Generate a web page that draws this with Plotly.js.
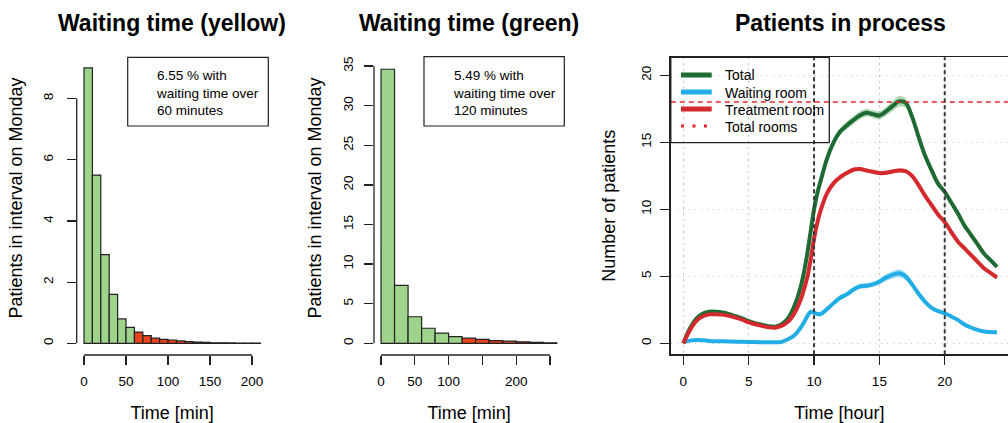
<!DOCTYPE html>
<html>
<head>
<meta charset="utf-8">
<script src="https://cdn.plot.ly/plotly-3.0.1.min.js"></script>
<style>
  html, body { margin: 0; padding: 0; background: #ffffff; }
  #chart { width: 1008px; height: 423px; }
</style>
</head>
<body>
<div id="chart"></div>
<script>
// ---- Waiting time histograms (lower bin edge in minutes, patients per bin) ----
const yellowBins = [0, 10, 20, 30, 40, 50, 60, 70, 80, 90, 100, 110, 120, 130, 140, 150, 160, 170, 180, 190, 200];
const yellowCounts = [9.0, 5.5, 2.9, 1.6, 0.8, 0.52, 0.37, 0.25, 0.17, 0.13, 0.11, 0.08, 0.06, 0.04, 0.03, 0.02, 0.02, 0.015, 0.01, 0.01, 0.005];
const yellowLimit = 60;
const yellowNote = ['6.55 % with', 'waiting time over', '60 minutes'];
const yellowXTicks = [0, 50, 100, 150, 200];
const yellowXText = ['0', '50', '100', '150', '200'];
const yellowYTicks = [0, 2, 4, 6, 8];

const greenBins = [0, 20, 40, 60, 80, 100, 120, 140, 160, 180, 200, 220, 240];
const greenCounts = [34.6, 7.3, 3.35, 1.9, 1.28, 0.85, 0.65, 0.5, 0.33, 0.26, 0.18, 0.12, 0.06];
const greenLimit = 120;
const greenNote = ['5.49 % with', 'waiting time over', '120 minutes'];
const greenXTicks = [0, 50, 100, 150, 200, 250];
const greenXText = ['0', '50', '100', '', '200', ''];
const greenYTicks = [0, 5, 10, 15, 20, 25, 30, 35];

// ---- Patients in process over the day ----
const hours = [0, 0.5, 1, 1.5, 2, 2.5, 3, 3.5, 4, 4.5, 5, 5.5, 6, 6.5, 7, 7.5, 8, 8.5,
  9, 9.25, 9.5, 9.75, 10, 10.25, 10.5,
  11, 11.5, 12, 12.5, 13, 13.5, 14, 14.5, 15, 15.5, 16, 16.5, 17, 17.5, 18, 18.5, 19, 19.5,
  20, 20.5, 21, 21.5, 22, 22.5, 23, 23.5, 24];
const totalPatients = [0, 1.1, 1.85, 2.22, 2.36, 2.35, 2.3, 2.18, 2.02, 1.86, 1.65, 1.5, 1.38, 1.28, 1.24, 1.4, 1.85, 2.8,
  4.3, 5.4, 6.8, 8.4, 10.0, 11.2, 12.1,
  13.8, 15.0, 15.8, 16.25, 16.65, 17.0, 17.2, 17.1, 17.0, 17.3, 17.7, 18.05, 17.95, 16.9, 15.4, 14.0, 12.9, 11.9,
  11.3, 10.5, 9.7, 8.8, 8.1, 7.4, 6.7, 6.2, 5.7];
const waitingRoom = [0.07, 0.2, 0.25, 0.22, 0.18, 0.16, 0.15, 0.14, 0.12, 0.11, 0.1, 0.09, 0.08, 0.07, 0.08, 0.1, 0.3, 0.6,
  1.2, 1.6, 2.05, 2.36, 2.28, 2.2, 2.18,
  2.55, 3.0, 3.4, 3.65, 4.0, 4.25, 4.3, 4.4, 4.6, 4.9, 5.1, 5.22, 5.0, 4.4, 3.7, 3.1, 2.65, 2.4,
  2.24, 2.0, 1.75, 1.41, 1.18, 1.0, 0.88, 0.84, 0.82];
const treatmentRoom = [0, 0.98, 1.68, 2.02, 2.16, 2.17, 2.14, 2.05, 1.92, 1.76, 1.56, 1.42, 1.3, 1.2, 1.16, 1.3, 1.6, 2.25,
  3.3, 4.1, 5.0, 6.3, 7.8, 9.0, 9.9,
  11.2, 11.95, 12.4, 12.7, 12.95, 13.0, 12.9, 12.8, 12.7, 12.72, 12.82, 12.9, 12.85, 12.5, 11.8, 11.0, 10.3, 9.6,
  9.05, 8.3, 7.6, 7.1, 6.6, 6.1, 5.6, 5.25, 4.9];
// half-width of the shaded uncertainty band around each curve
const totalBand = [0.06, 0.06, 0.06, 0.06, 0.06, 0.06, 0.06, 0.06, 0.06, 0.06, 0.06, 0.06, 0.06, 0.06, 0.06, 0.06, 0.06, 0.06,
  0.1, 0.1, 0.1, 0.1, 0.1, 0.1, 0.1,
  0.15, 0.2, 0.25, 0.28, 0.3, 0.3, 0.28, 0.28, 0.3, 0.32, 0.36, 0.4, 0.36, 0.3, 0.22, 0.18, 0.15, 0.12,
  0.1, 0.08, 0.08, 0.08, 0.08, 0.08, 0.08, 0.08, 0.08];
const waitingBand = [0.05, 0.05, 0.05, 0.05, 0.05, 0.05, 0.05, 0.05, 0.05, 0.05, 0.05, 0.05, 0.05, 0.05, 0.05, 0.05, 0.05, 0.05,
  0.1, 0.1, 0.1, 0.1, 0.1, 0.1, 0.1,
  0.12, 0.15, 0.18, 0.18, 0.2, 0.2, 0.2, 0.2, 0.22, 0.25, 0.28, 0.3, 0.28, 0.25, 0.2, 0.15, 0.12, 0.1,
  0.08, 0.06, 0.06, 0.06, 0.06, 0.06, 0.06, 0.06, 0.06];
const treatmentBand = [0.06, 0.06, 0.06, 0.06, 0.06, 0.06, 0.06, 0.06, 0.06, 0.06, 0.06, 0.06, 0.06, 0.06, 0.06, 0.06, 0.06, 0.06,
  0.1, 0.1, 0.1, 0.1, 0.1, 0.1, 0.1,
  0.15, 0.15, 0.15, 0.15, 0.15, 0.15, 0.15, 0.15, 0.15, 0.15, 0.15, 0.15, 0.15, 0.15,
  0.08, 0.08, 0.08, 0.08, 0.08, 0.08, 0.08, 0.08, 0.08, 0.08, 0.08, 0.08, 0.08];
const totalRooms = 18;
const shiftHours = [10, 20];
const hourTicks = [0, 5, 10, 15, 20];
const patientTicks = [0, 5, 10, 15, 20];
const legendNames = ['Total', 'Waiting room', 'Treatment room', 'Total rooms'];

// ---- styling helpers ----
const FONT = 'Liberation Sans, Arial, Helvetica, sans-serif';
const W = 1008, H = 423;
const px = v => v / W;          // pixel column -> paper x
const py = v => 1 - v / H;      // pixel row -> paper y
const INK = '#222222';
const GREEN_BAR = '#9dd38a';
const RED_BAR = '#e8441e';
const totalColor = '#1d6b32', waitingColor = '#22ade6', treatColor = '#d42a2e', roomsColor = '#e8262a';

function histTrace(bins, counts, limit, xa, ya) {
  const w = bins[1] - bins[0];
  return {
    type: 'bar', x: bins.map(b => b + w / 2), y: counts, width: bins.map(() => w),
    marker: { color: bins.map(b => (b < limit ? GREEN_BAR : RED_BAR)), line: { color: INK, width: 1.2 } },
    xaxis: xa, yaxis: ya, showlegend: false, hoverinfo: 'x+y'
  };
}
function bandTraces(y, half, fill, xa, ya) {
  const common = { x: hours, mode: 'lines', line: { width: 0, shape: 'spline' },
    xaxis: xa, yaxis: ya, showlegend: false, hoverinfo: 'skip' };
  return [
    Object.assign({}, common, { y: y.map((v, i) => v - half[i]) }),
    Object.assign({}, common, { y: y.map((v, i) => v + half[i]), fill: 'tonexty', fillcolor: fill })
  ];
}
function curveTrace(y, name, color, xa, ya) {
  return { x: hours, y: y, name: name, mode: 'lines', showlegend: false,
    line: { color: color, width: 4, shape: 'spline', smoothing: 1 }, xaxis: xa, yaxis: ya };
}

const tickFont = { family: FONT, size: 13.5, color: '#000' };
const axisTitleFont = { family: FONT, size: 18, color: '#000' };
const baseAxis = {
  ticks: 'outside', ticklen: 9, tickwidth: 1.3, tickcolor: INK,
  tickfont: tickFont, showgrid: false, zeroline: false, showline: false,
  fixedrange: true, automargin: false
};

const traces = [
  histTrace(yellowBins, yellowCounts, yellowLimit, 'x', 'y'),
  histTrace(greenBins, greenCounts, greenLimit, 'x2', 'y2'),
  ...bandTraces(totalPatients, totalBand, 'rgba(70,160,80,0.42)', 'x3', 'y3'),
  curveTrace(totalPatients, legendNames[0], totalColor, 'x3', 'y3'),
  ...bandTraces(waitingRoom, waitingBand, 'rgba(34,173,230,0.40)', 'x3', 'y3'),
  curveTrace(waitingRoom, legendNames[1], waitingColor, 'x3', 'y3'),
  ...bandTraces(treatmentRoom, treatmentBand, 'rgba(212,42,46,0.35)', 'x3', 'y3'),
  curveTrace(treatmentRoom, legendNames[2], treatColor, 'x3', 'y3')
];

// legend drawn as a framed key in the upper left corner of the right panel
const legendRows = [75, 92, 109, 126];
const legendStyles = [
  { color: totalColor, width: 5 },
  { color: waitingColor, width: 5 },
  { color: treatColor, width: 5 },
  { color: roomsColor, width: 3, dash: '3px,8.5px' }
];
const legendShapes = [
  { type: 'rect', xref: 'paper', yref: 'paper', x0: px(670.8), x1: px(829.3), y0: py(142.7), y1: py(57.3),
    line: { color: INK, width: 1.3 } },
  ...legendRows.map((r, i) => ({ type: 'line', xref: 'paper', yref: 'paper',
    x0: px(681), x1: px(711.7), y0: py(r), y1: py(r), line: legendStyles[i] }))
];
const legendLabels = legendRows.map((r, i) => ({
  text: legendNames[i], xref: 'paper', yref: 'paper', x: px(722.5), y: py(r + 0.5), showarrow: false,
  xanchor: 'left', yanchor: 'middle', font: { family: FONT, size: 14, color: '#000' }
}));

const layout = {
  width: W, height: H, margin: { l: 0, r: 0, t: 0, b: 0 },
  paper_bgcolor: '#ffffff', plot_bgcolor: 'rgba(0,0,0,0)',
  font: { family: FONT, color: '#000' }, bargap: 0, showlegend: false,
  xaxis: Object.assign({}, baseAxis, {
    domain: [px(76.7), px(267.5)], range: [-8.7, 218.4], anchor: 'y',
    tickmode: 'array', tickvals: yellowXTicks, ticktext: yellowXText, ticklabelstandoff: 5,
    title: { text: 'Time [min]', font: axisTitleFont, standoff: 20 }
  }),
  yaxis: Object.assign({}, baseAxis, {
    domain: [py(355), py(41)], range: [-0.38, 9.88], anchor: 'x',
    tickmode: 'array', tickvals: yellowYTicks, tickangle: -90, ticklabelstandoff: 8,
    title: { text: 'Patients in interval on Monday', font: axisTitleFont, standoff: 13 }
  }),
  xaxis2: Object.assign({}, baseAxis, {
    domain: [px(374), px(564.3)], range: [-10.4, 271.1], anchor: 'y2',
    tickmode: 'array', tickvals: greenXTicks, ticktext: greenXText, ticklabelstandoff: 5,
    title: { text: 'Time [min]', font: axisTitleFont, standoff: 20 }
  }),
  yaxis2: Object.assign({}, baseAxis, {
    domain: [py(355), py(41)], range: [-1.48, 38.17], anchor: 'x2',
    tickmode: 'array', tickvals: greenYTicks, tickangle: -90, ticklabelstandoff: 6,
    title: { text: 'Patients in interval on Monday', font: axisTitleFont, standoff: 14 }
  }),
  xaxis3: Object.assign({}, baseAxis, {
    domain: [px(670.8), 1], range: [-0.96, 24.84], anchor: 'y3',
    tickmode: 'array', tickvals: hourTicks, ticklabelstandoff: 5,
    showline: true, mirror: true, linecolor: INK, linewidth: 1.8,
    showgrid: true, gridcolor: '#c8c8c8', gridwidth: 1, griddash: '1.5px,4.5px',
    title: { text: 'Time [hour]', font: axisTitleFont, standoff: 20 }
  }),
  yaxis3: Object.assign({}, baseAxis, {
    domain: [py(354.3), py(57.3)], range: [-0.82, 21.34], anchor: 'x3',
    tickmode: 'array', tickvals: patientTicks, tickangle: -90, ticklabelstandoff: 4,
    showline: true, linecolor: INK, linewidth: 1.8,
    showgrid: true, gridcolor: '#c8c8c8', gridwidth: 1, griddash: '1.5px,4.5px',
    title: { text: 'Number of patients', font: axisTitleFont, standoff: 18 }
  }),
  shapes: [
    // detached axis lines of the two histograms, spanning the tick range only
    { type: 'line', xref: 'x', yref: 'y domain', x0: yellowXTicks[0], x1: yellowXTicks[yellowXTicks.length - 1], y0: 0, y1: 0, line: { color: INK, width: 1.3 } },
    { type: 'line', xref: 'x domain', yref: 'y', x0: 0, x1: 0, y0: yellowYTicks[0], y1: yellowYTicks[yellowYTicks.length - 1], line: { color: INK, width: 1.3 } },
    { type: 'line', xref: 'x2', yref: 'y2 domain', x0: greenXTicks[0], x1: greenXTicks[greenXTicks.length - 1], y0: 0, y1: 0, line: { color: INK, width: 1.3 } },
    { type: 'line', xref: 'x2 domain', yref: 'y2', x0: 0, x1: 0, y0: greenYTicks[0], y1: greenYTicks[greenYTicks.length - 1], line: { color: INK, width: 1.3 } },
    // note boxes
    { type: 'rect', xref: 'paper', yref: 'paper', x0: px(127.7), x1: px(268.3), y0: py(126), y1: py(57.3), line: { color: INK, width: 1.2 } },
    { type: 'rect', xref: 'paper', yref: 'paper', x0: px(424), x1: px(564.3), y0: py(126), y1: py(56.7), line: { color: INK, width: 1.2 } },
    // room capacity
    { type: 'line', xref: 'x3 domain', yref: 'y3', x0: 0, x1: 1, y0: totalRooms, y1: totalRooms, layer: 'above',
      line: { color: roomsColor, width: 1.5, dash: '5px,4px' } },
    // shift boundaries
    ...shiftHours.map(h => ({ type: 'line', xref: 'x3', yref: 'y3 domain', x0: h, x1: h, y0: 0, y1: 1, layer: 'above',
      line: { color: '#3a3a3a', width: 2, dash: '4px,3px' } })),
    ...legendShapes
  ],
  annotations: [
    { text: 'Waiting time (yellow)', xref: 'paper', yref: 'paper', x: px(172), y: py(23), showarrow: false,
      xanchor: 'center', yanchor: 'middle', font: { family: FONT, size: 23, color: '#000', weight: 700 } },
    { text: 'Waiting time (green)', xref: 'paper', yref: 'paper', x: px(469), y: py(23), showarrow: false,
      xanchor: 'center', yanchor: 'middle', font: { family: FONT, size: 23, color: '#000', weight: 700 } },
    { text: 'Patients in process', xref: 'paper', yref: 'paper', x: px(840), y: py(23), showarrow: false,
      xanchor: 'center', yanchor: 'middle', font: { family: FONT, size: 23, color: '#000', weight: 700 } },
    { text: yellowNote.join('<br>'), xref: 'paper', yref: 'paper', x: px(154), y: py(92.7), showarrow: false,
      xanchor: 'left', yanchor: 'middle', align: 'left', font: { family: FONT, size: 13.5, color: '#000' } },
    { text: greenNote.join('<br>'), xref: 'paper', yref: 'paper', x: px(450.7), y: py(93), showarrow: false,
      xanchor: 'left', yanchor: 'middle', align: 'left', font: { family: FONT, size: 13.5, color: '#000' } },
    ...legendLabels
  ]
};

Plotly.newPlot('chart', traces, layout, { staticPlot: true, displayModeBar: false });
</script>
</body>
</html>
